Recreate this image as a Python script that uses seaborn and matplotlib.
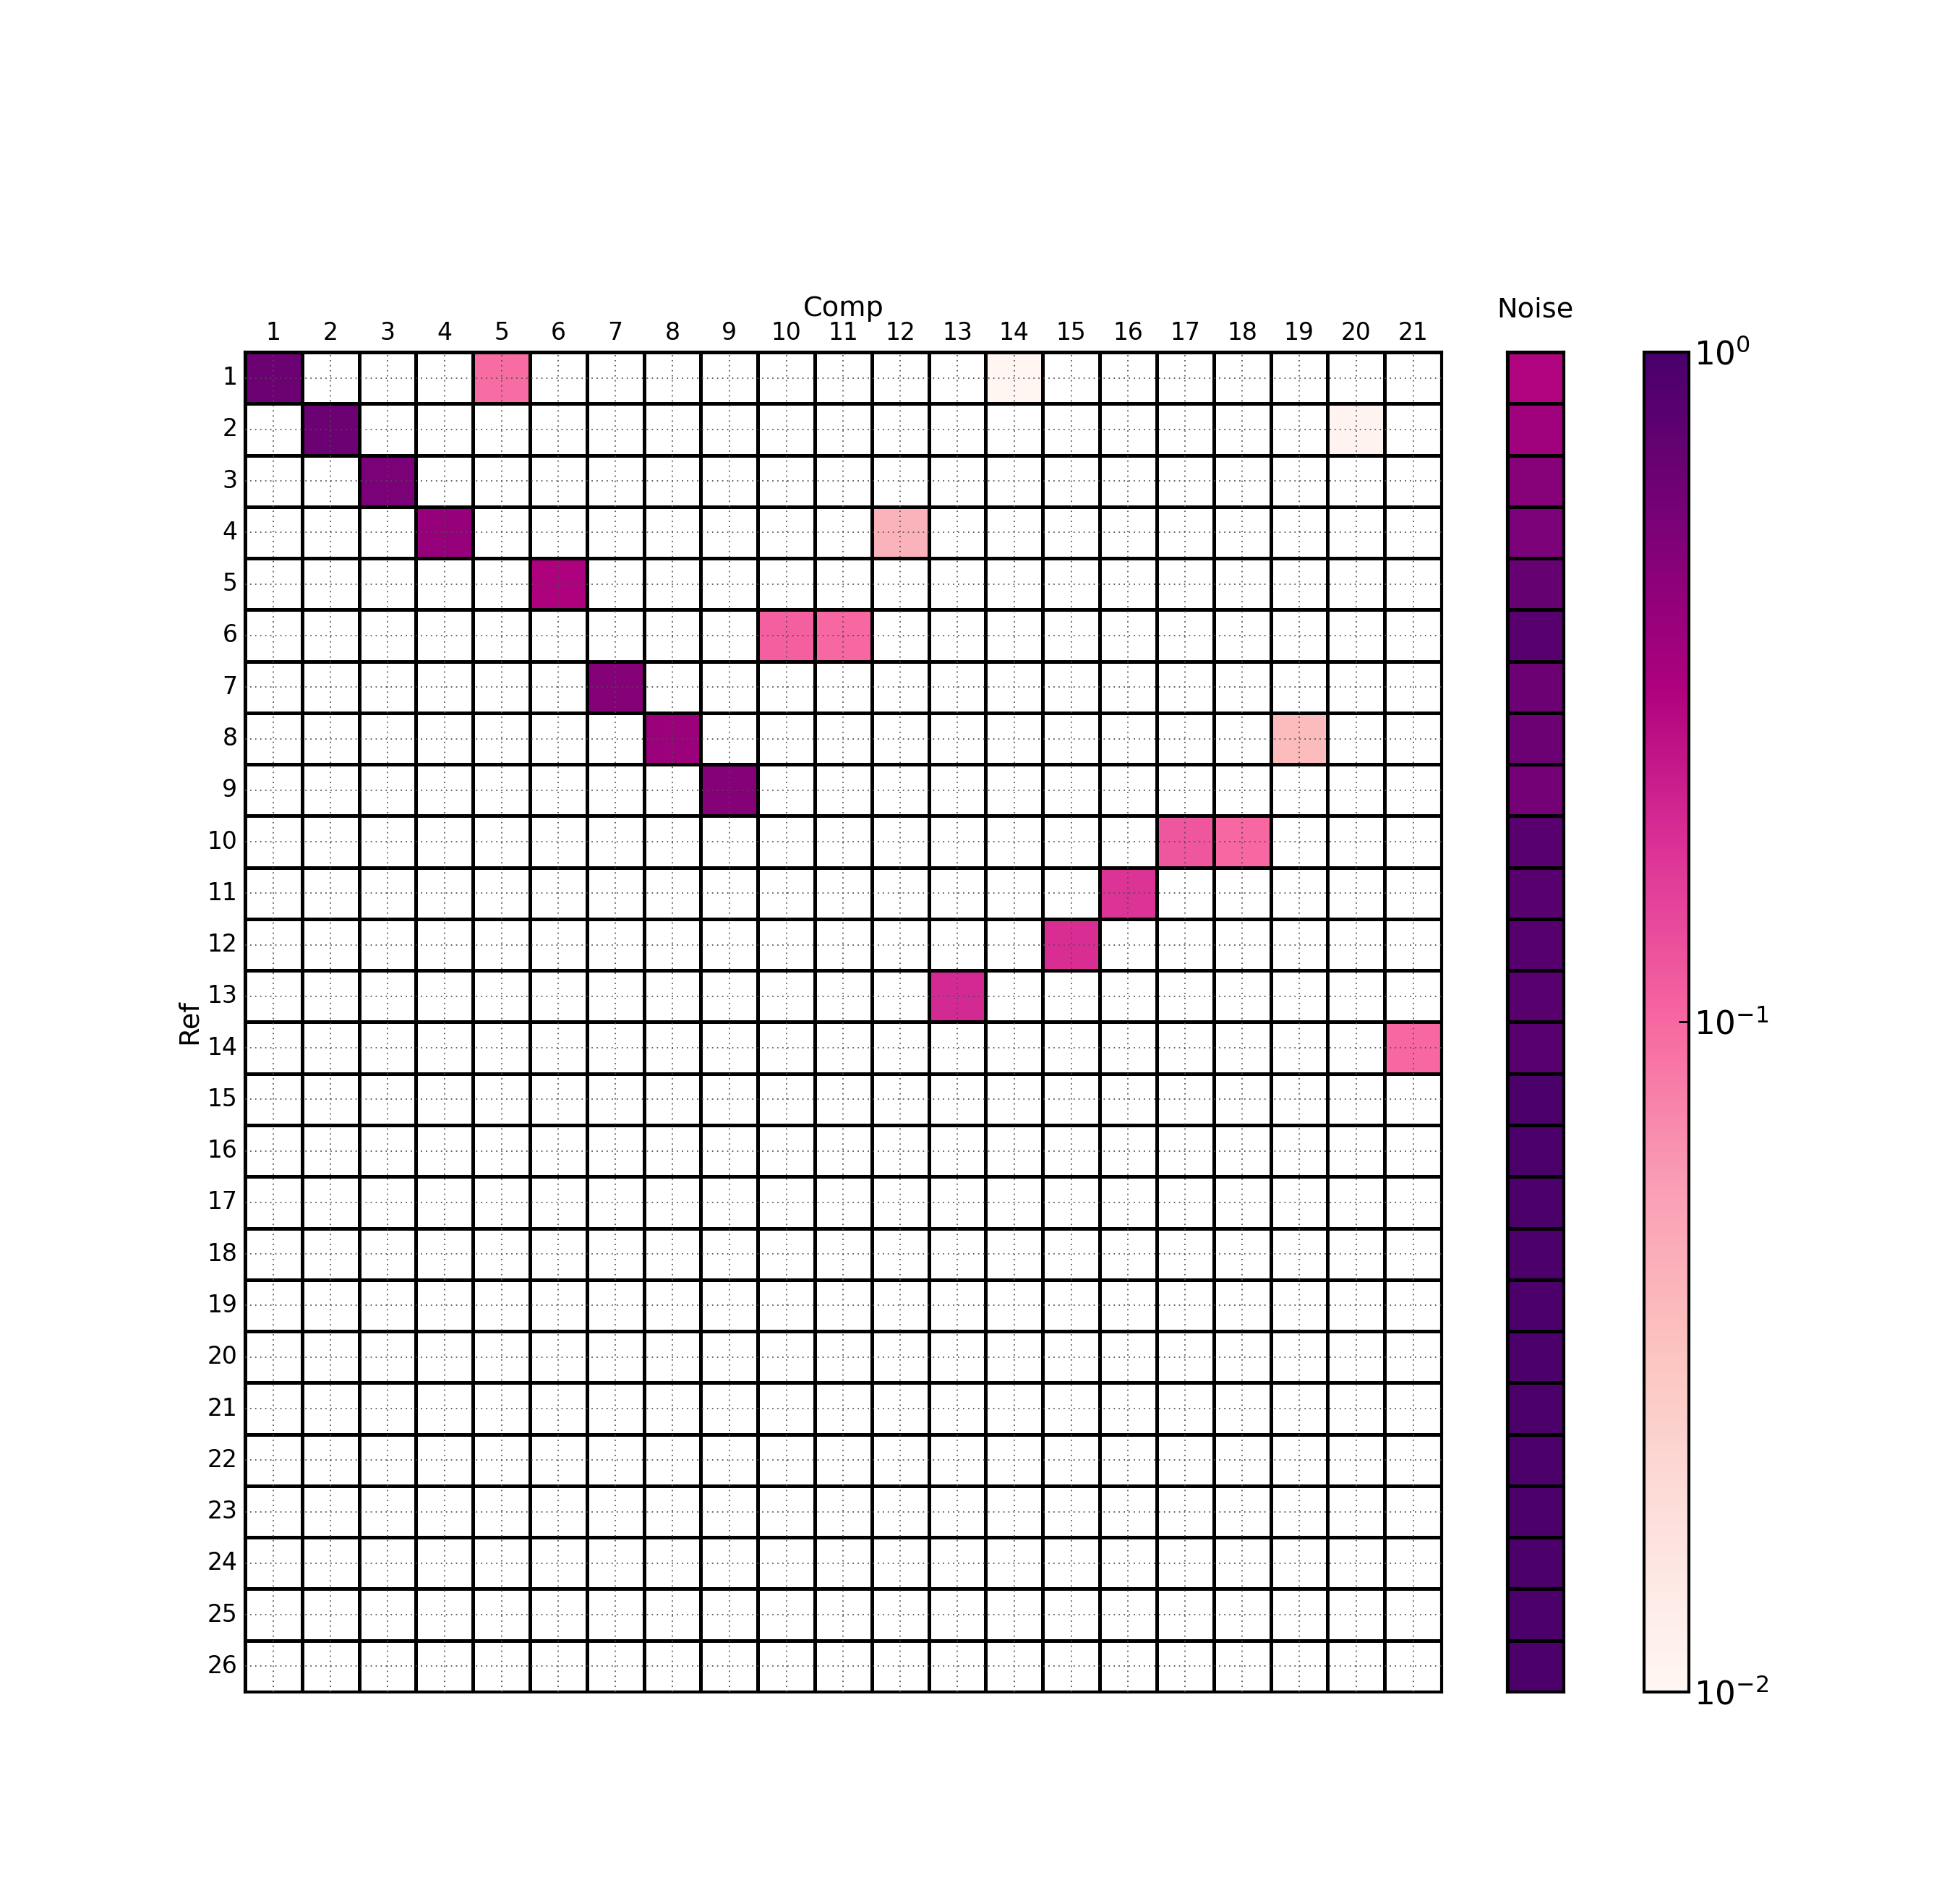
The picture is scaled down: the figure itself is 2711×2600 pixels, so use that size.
import matplotlib
matplotlib.use('Agg')
import matplotlib.pyplot as plt
import numpy as np
import pandas as pd
import seaborn as sns
from matplotlib.colors import LogNorm

plt.rcParams['axes.unicode_minus'] = False

ref_labels = [str(i) for i in range(1, 27)]
comp_labels = [str(i) for i in range(1, 22)]

# non-empty cells of the match matrix (1-based ref row, comp column, value)
match_ref = [1, 1, 1, 2, 2, 3, 4, 4, 5, 6, 6, 7, 8, 8, 9, 10, 10, 11, 12, 13, 14]
match_comp = [1, 5, 14, 2, 20, 3, 4, 12, 6, 10, 11, 7, 8, 19, 9, 17, 18, 16, 15, 13, 21]
match_val = [0.66, 0.095, 0.0105, 0.66, 0.011, 0.56, 0.41, 0.042, 0.32, 0.11, 0.10,
             0.50, 0.38, 0.036, 0.50, 0.12, 0.10, 0.18, 0.19, 0.20, 0.10]

noise = [0.31, 0.37, 0.48, 0.56, 0.72, 0.85, 0.65, 0.66, 0.60, 0.84,
         0.85, 0.86, 0.84, 0.84, 0.97, 0.98, 0.98, 0.98, 0.98, 0.98,
         0.98, 0.98, 0.98, 0.98, 0.98, 0.98]

mat = np.zeros((len(ref_labels), len(comp_labels)))
for r, c, v in zip(match_ref, match_comp, match_val):
    mat[r - 1, c - 1] = v
df = pd.DataFrame(mat, index=ref_labels, columns=comp_labels)
noise_df = pd.DataFrame({'Noise': noise}, index=ref_labels)

cmap = sns.color_palette('RdPu', as_cmap=True).copy()
cmap.set_bad('white')
norm = LogNorm(vmin=1e-2, vmax=1)

fig = plt.figure(figsize=(2711 / 250, 2600 / 250), dpi=250)
ax = fig.add_axes([0.125, 0.1, 0.6105, 0.7127])
nax = fig.add_axes([0.769, 0.1, 0.0288, 0.7127])
cax = fig.add_axes([0.8388, 0.1, 0.0229, 0.7127])

sns.heatmap(df, ax=ax, cmap=cmap, norm=norm, linewidths=1, linecolor='k',
            cbar_ax=cax, cbar_kws={'ticks': [1e-2, 1e-1, 1]})
ax.xaxis.tick_top()
ax.xaxis.set_label_position('top')
ax.set_xlabel('Comp', fontsize=11, labelpad=2)
ax.set_ylabel('Ref', fontsize=11, labelpad=2)
ax.tick_params(length=0, labelsize=9.5, pad=3)
plt.setp(ax.get_yticklabels(), rotation=0)
plt.setp(ax.get_xticklabels(), rotation=0)
ax.set_axisbelow(False)
ax.grid(True, linestyle=(0, (1, 3)), color='0.3', linewidth=0.5)
for s in ax.spines.values():
    s.set_visible(True)
    s.set_linewidth(1.2)

sns.heatmap(noise_df, ax=nax, cmap=cmap, norm=norm, linewidths=1, linecolor='k', cbar=False)
nax.set_xticks([])
nax.set_yticks([])
nax.set_ylabel('')
nax.set_title('Noise', fontsize=11, pad=14)
for s in nax.spines.values():
    s.set_visible(True)
    s.set_linewidth(1.2)

cbar = ax.collections[0].colorbar
cbar.ax.minorticks_off()
cbar.ax.tick_params(labelsize=13, direction='in', length=4, width=0.8, pad=2)
cbar.outline.set_edgecolor('k')
cbar.outline.set_linewidth(1.2)

fig.savefig('out.png', dpi=250, facecolor='white')
